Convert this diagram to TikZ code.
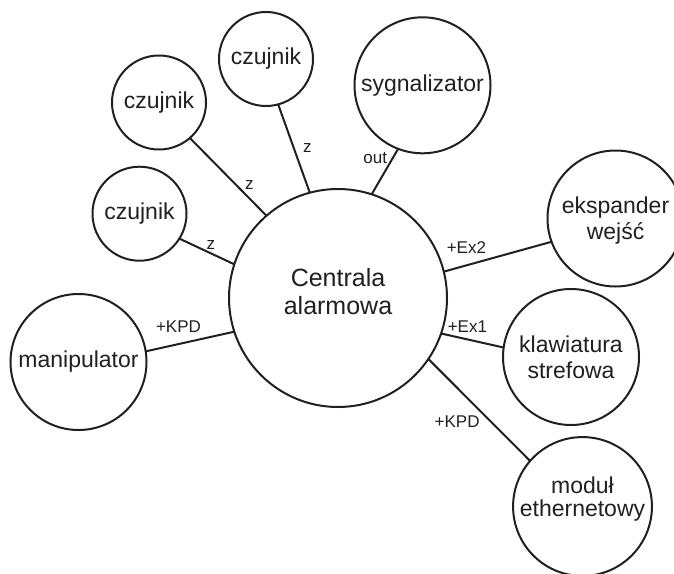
\documentclass[tikz,border=0pt]{standalone}
\usepackage{fontspec}
\setmainfont{Liberation Sans}
\usepackage{tkz-graph}
\definecolor{ink}{HTML}{231F20}
\tikzset{
    hub/.style={minimum size=218pt, font=\fontsize{25}{28}\selectfont, text depth=13pt},
    sensor/.style={minimum size=94pt, font=\fontsize{23}{26}\selectfont},
    device/.style={minimum size=136pt, font=\fontsize{23}{26}\selectfont},
    module/.style={minimum size=132pt, font=\fontsize{23}{23.5}\selectfont, text depth=20pt}
}

\begin{document}
\begin{tikzpicture}[x=1pt,y=-1pt]
    \clip (0,0) rectangle (674,573);
    \GraphInit[vstyle=Normal]
    \tikzset{VertexStyle/.style={shape=circle, draw=ink, line width=2pt, fill=white,
        inner sep=0pt, align=center, text=ink}}
    \tikzset{EdgeStyle/.style={draw=ink, line width=2pt}}
    \tikzset{LabelStyle/.style={fill=none, inner sep=0pt, text=ink,
        font=\fontsize{17}{20}\selectfont}}
    \Vertex[x=338,y=298,L={Centrala\\alarmowa},style=hub]{C}
    \Vertex[x=266,y=59,L=czujnik,style=sensor]{Z1}
    \Vertex[x=159,y=102.5,L=czujnik,style=sensor]{Z2}
    \Vertex[x=139.5,y=213.7,L=czujnik,style=sensor]{Z3}
    \Vertex[x=422.5,y=85.3,L=sygnalizator,style=device]{Syg}
    \Vertex[x=615.5,y=218.5,L={ekspander\\wejść},style={device,text depth=-5pt}]{Eks}
    \Vertex[x=571,y=357,L={klawiatura\\strefowa},style=device]{Klaw}
    \Vertex[x=582.5,y=506.5,L={moduł\\ethernetowy},style=module]{Mod}
    \Vertex[x=78.5,y=362,L=manipulator,style=device]{Man}

    \Edge[label=z,labelstyle={pos=0.51,xshift=13.7pt}](C.105)(Z1.-75)
    \Edge[label=z,labelstyle={pos=0.31,xshift=6.7pt,yshift=6.7pt}](C.131)(Z2.-49)
    \Edge[label=z,labelstyle={pos=0.48,xshift=3pt,yshift=7pt}](C.162)(Z3.-32)
    \Edge[label=out,labelstyle={pos=0.79,xshift=-17.3pt}](C.72)(Syg.-111)
    \Edge[label=+Ex2,labelstyle={pos=0.21,yshift=17.9pt}](C.14)(Eks.-160)
    \Edge[label=+Ex1,labelstyle={pos=0.42,yshift=12.6pt}](C.-19)(Klaw.172)
    \Edge[label=+KPD,labelstyle={pos=0.45,xshift=-17pt,yshift=-17pt}](C.-34)(Mod.139)
    \Edge[label=+KPD,labelstyle={pos=0.63,yshift=17pt}](C.-162)(Man.9)
\end{tikzpicture}
\end{document}
